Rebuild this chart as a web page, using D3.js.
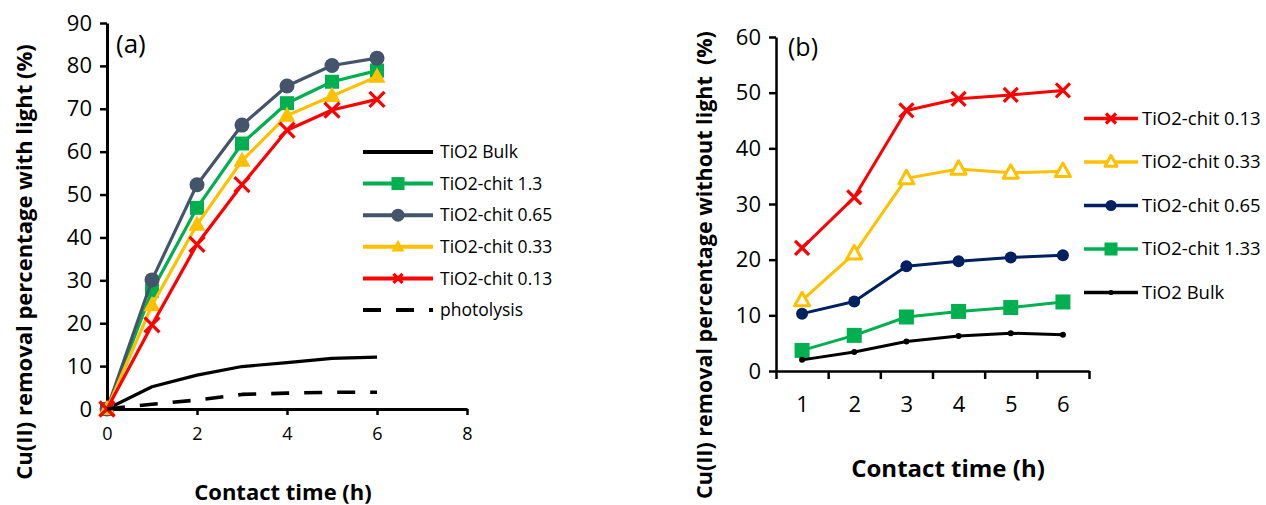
<!DOCTYPE html>
<html><head><meta charset="utf-8">
<script src="https://cdn.jsdelivr.net/npm/d3@7"></script>
<style>body{margin:0;background:#fff} text{font-family:"Open Sans",Lato,sans-serif;fill:#000}</style>
</head><body><svg id="c" width="1266" height="505"></svg>
<script>
// ---------- data: panel (a), with light ----------
const timesA = [0, 1, 2, 3, 4, 5, 6];
const bulkA  = [0, 5.2, 7.9, 9.9, 10.8, 11.8, 12.1];
const chit13A  = [0, 27.6, 46.9, 61.9, 71.3, 76.3, 78.9];
const chit065A = [0, 30.1, 52.3, 66.2, 75.3, 80.1, 81.8];
const chit033A = [0, 24.2, 43.0, 57.9, 68.4, 73.0, 77.5];
const chit013A = [0, 19.6, 38.4, 52.3, 65.0, 69.7, 72.2];
const photolysisA = [0, 1.1, 2.1, 3.4, 3.7, 3.9, 3.9];
const xTicksA = [0, 2, 4, 6, 8];
const yTicksA = [0, 10, 20, 30, 40, 50, 60, 70, 80, 90];

// ---------- data: panel (b), without light ----------
const timesB = [1, 2, 3, 4, 5, 6];
const chit013B = [22.1, 31.2, 46.8, 48.9, 49.6, 50.4];
const chit033B = [12.7, 21.1, 34.6, 36.3, 35.6, 35.9];
const chit065B = [10.3, 12.5, 18.8, 19.7, 20.4, 20.8];
const chit133B = [3.7, 6.4, 9.7, 10.7, 11.4, 12.4];
const bulkB    = [2.0, 3.4, 5.3, 6.3, 6.8, 6.5];
const yTicksB = [0, 10, 20, 30, 40, 50, 60];

const FONT = "'Open Sans', Lato, sans-serif";
const svg = d3.select("#c");

function marker(g, type, cx, cy, s, color) {
  if (type === "square") {
    g.append("rect").attr("x", cx - s/2).attr("y", cy - s/2).attr("width", s).attr("height", s).attr("fill", color);
  } else if (type === "circle" || type === "dot") {
    g.append("circle").attr("cx", cx).attr("cy", cy).attr("r", s/2).attr("fill", color);
  } else if (type === "triangle" || type === "triangleOpen") {
    const h = s * 0.9;
    const p = `M${cx},${cy - h*0.6}L${cx + s/2},${cy + h*0.4}L${cx - s/2},${cy + h*0.4}Z`;
    if (type === "triangle") g.append("path").attr("d", p).attr("fill", color);
    else g.append("path").attr("d", p).attr("fill", "#fff").attr("stroke", color).attr("stroke-width", 3).attr("stroke-linejoin", "round");
  } else if (type === "cross") {
    const h = s/2;
    g.append("path").attr("d", `M${cx-h},${cy-h}L${cx+h},${cy+h}M${cx-h},${cy+h}L${cx+h},${cy-h}`)
      .attr("stroke", color).attr("stroke-width", 3.2).attr("fill", "none");
  }
}

function styleAxis(ax, fontSize) {
  ax.select(".domain").attr("stroke", "#000").attr("stroke-width", 3);
  ax.selectAll(".tick line").attr("stroke", "#000").attr("stroke-width", 2.5);
  ax.selectAll(".tick text").attr("font-size", fontSize).attr("font-family", FONT).attr("fill", "#000");
}

// ================= Panel (a) =================
{
  const x = d3.scaleLinear().domain([0, 8]).range([107, 467]);
  const y = d3.scaleLinear().domain([0, 90]).range([409, 23]);
  const g = svg.append("g");

  const xa = g.append("g").attr("transform", `translate(0,${y(0)})`)
    .call(d3.axisBottom(x).tickValues(xTicksA).tickSize(6).tickSizeOuter(0).tickPadding(12));
  styleAxis(xa, 18);
  const ya = g.append("g").attr("transform", `translate(${x(0)},0)`)
    .call(d3.axisLeft(y).tickValues(yTicksA).tickSize(7).tickSizeOuter(0).tickPadding(8));
  styleAxis(ya, 22);
  xa.selectAll(".tick").filter(d => d === 0).select("line").remove();

  const series = [
    {name: "TiO2 Bulk", vals: bulkA, color: "#000", mk: null, ms: 0},
    {name: "TiO2-chit 1.3", vals: chit13A, color: "#00B050", mk: "square", ms: 14},
    {name: "TiO2-chit 0.65", vals: chit065A, color: "#44546A", mk: "circle", ms: 15},
    {name: "TiO2-chit 0.33", vals: chit033A, color: "#FFC000", mk: "triangle", ms: 17},
    {name: "TiO2-chit 0.13", vals: chit013A, color: "#FF0000", mk: "cross", ms: 15},
    {name: "photolysis", vals: photolysisA, color: "#000", mk: null, ms: 0, dash: "18,15"}
  ];
  const line = d3.line().x((d, i) => x(timesA[i])).y(d => y(d));
  series.forEach(s => {
    g.append("path").datum(s.vals).attr("d", line).attr("fill", "none")
      .attr("stroke", s.color).attr("stroke-width", s.dash ? 3.6 : 3.2).attr("stroke-linejoin", "round")
      .attr("stroke-dasharray", s.dash || null);
    if (s.mk) s.vals.forEach((v, i) => marker(g, s.mk, x(timesA[i]), y(v), s.ms, s.color));
  });

  // legend
  const lg = svg.append("g");
  const lsize = {square: 13, circle: 13, triangle: 13, cross: 9};
  series.forEach((s, i) => {
    const ly = 152 + i * 31.6;
    lg.append("line").attr("x1", 363).attr("x2", 433).attr("y1", ly).attr("y2", ly)
      .attr("stroke", s.color).attr("stroke-width", 4).attr("stroke-dasharray", s.dash || null);
    if (s.mk) marker(lg, s.mk, 398, ly, lsize[s.mk], s.color);
    lg.append("text").attr("x", 440).attr("y", ly).attr("dy", "0.35em").attr("font-size", 17.5).text(s.name);
  });

  svg.append("text").attr("x", 116).attr("y", 53).attr("font-size", 26).text("(a)");
  svg.append("text").attr("x", 283).attr("y", 500).attr("text-anchor", "middle")
    .attr("font-size", 22).attr("font-weight", "bold").text("Contact time (h)");
  svg.append("text").attr("transform", "translate(32,262) rotate(-90)").attr("text-anchor", "middle")
    .attr("font-size", 22).attr("font-weight", "bold").text("Cu(II) removal percentage with light (%)");
}

// ================= Panel (b) =================
{
  const x = d3.scaleLinear().domain([0.5, 6.5]).range([776, 1089]);
  const y = d3.scaleLinear().domain([0, 60]).range([371, 37]);
  const g = svg.append("g");
  const edges = d3.range(0.5, 6.6, 1);

  const xa = g.append("g").attr("transform", `translate(0,${y(0)})`)
    .call(d3.axisBottom(x).tickValues(edges).tickFormat("").tickSize(8).tickSizeOuter(0));
  styleAxis(xa, 19);
  const xl = g.append("g").attr("transform", `translate(0,${y(0)})`)
    .call(d3.axisBottom(x).tickValues(timesB).tickFormat(d3.format("d")).tickSize(0).tickPadding(25));
  xl.select(".domain").remove();
  xl.selectAll(".tick text").attr("font-size", 22).attr("font-family", FONT).attr("fill", "#000");
  const ya = g.append("g").attr("transform", `translate(${x(0.5)},0)`)
    .call(d3.axisLeft(y).tickValues(yTicksB).tickSize(7).tickSizeOuter(0).tickPadding(8));
  styleAxis(ya, 22);
  ya.select(".domain").attr("stroke-width", 2.5);
  xa.select(".domain").attr("stroke-width", 2.5);

  const series = [
    {name: "TiO2-chit 0.13", vals: chit013B, color: "#FF0000", mk: "cross", ms: 14, lms: 10},
    {name: "TiO2-chit 0.33", vals: chit033B, color: "#FFC000", mk: "triangleOpen", ms: 15, lms: 12},
    {name: "TiO2-chit 0.65", vals: chit065B, color: "#002060", mk: "circle", ms: 12, lms: 11},
    {name: "TiO2-chit 1.33", vals: chit133B, color: "#00B050", mk: "square", ms: 15, lms: 13},
    {name: "TiO2 Bulk", vals: bulkB, color: "#000", mk: "dot", ms: 6, lms: 5}
  ];
  const line = d3.line().x((d, i) => x(timesB[i])).y(d => y(d));
  series.forEach(s => {
    g.append("path").datum(s.vals).attr("d", line).attr("fill", "none")
      .attr("stroke", s.color).attr("stroke-width", 3).attr("stroke-linejoin", "round");
    s.vals.forEach((v, i) => marker(g, s.mk, x(timesB[i]), y(v), s.ms, s.color));
  });

  const lg = svg.append("g");
  series.forEach((s, i) => {
    const ly = 118.5 + i * 43.5;
    lg.append("line").attr("x1", 1084).attr("x2", 1138).attr("y1", ly).attr("y2", ly)
      .attr("stroke", s.color).attr("stroke-width", 3.5);
    marker(lg, s.mk, 1111, ly, s.lms, s.color);
    lg.append("text").attr("x", 1142).attr("y", ly).attr("dy", "0.35em").attr("font-size", 18.5).text(s.name);
  });

  svg.append("text").attr("x", 788).attr("y", 56).attr("font-size", 25).text("(b)");
  svg.append("text").attr("x", 948).attr("y", 477).attr("text-anchor", "middle")
    .attr("font-size", 24).attr("font-weight", "bold").text("Contact time (h)");
  svg.append("text").attr("transform", "translate(712,265) rotate(-90)").attr("text-anchor", "middle")
    .attr("font-size", 21.5).attr("font-weight", "bold").style("white-space", "pre")
    .text("Cu(II) removal percentage without light  (%)");
}
</script></body></html>
